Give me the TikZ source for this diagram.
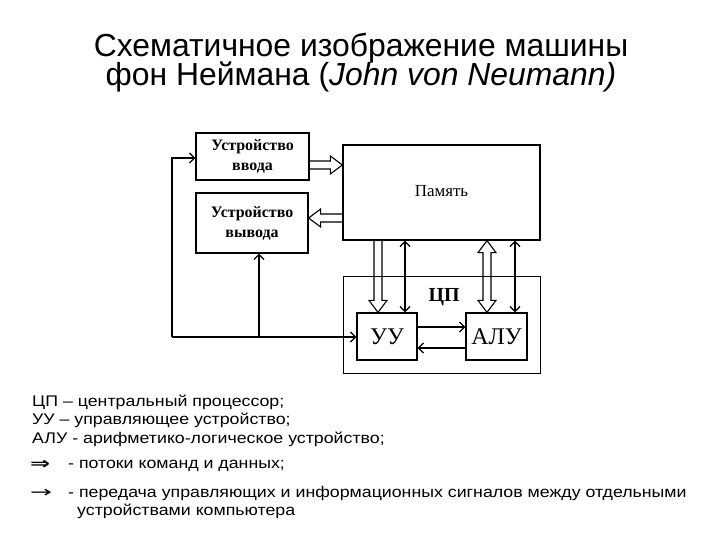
\documentclass[tikz,border=0pt]{standalone}
\usepackage{fontspec}
\usepackage{graphicx}
\setmainfont{Liberation Serif}
\newfontfamily\arial{Liberation Sans}
\newfontfamily\arialw[FakeStretch=1.15]{Liberation Sans}
\newfontfamily\dejavu{DejaVu Sans}
\usetikzlibrary{arrows.meta,calc}

\tikzset{
  box/.style={draw, line width=1.3bp, rectangle, inner sep=0pt, align=center,
    font=\bfseries\fontsize{16}{20}\selectfont},
  thinarr/.style={line width=1.3bp, -{Straight Barb[length=5bp,width=10bp]}},
  thinboth/.style={line width=1.3bp, {Straight Barb[length=5bp,width=10bp]}-{Straight Barb[length=5bp,width=10bp]}},
  fatline/.style={line width=1.1bp, line join=miter},
  lg/.style={anchor=base west, inner sep=0pt, font=\arialw\fontsize{15.5}{18}\selectfont},
  ttl/.style={anchor=base, inner sep=0pt, font=\arial\fontsize{32}{36}\selectfont},
}

\newcommand\fatarr[2]{%
  \coordinate (fah) at ($(#2)!12bp!(#1)$);
  \draw[fatline] ($(#1)!4bp!90:(#2)$) -- ($(fah)!4bp!90:(#2)$) -- ($(fah)!9bp!90:(#2)$) -- (#2)
     -- ($(fah)!9bp!-90:(#2)$) -- ($(fah)!4bp!-90:(#2)$) -- ($(#1)!4bp!-90:(#2)$);}

\newcommand\fatbi[2]{%
  \coordinate (fah) at ($(#2)!12bp!(#1)$);
  \coordinate (fag) at ($(#1)!12bp!(#2)$);
  \draw[fatline] (#1) -- ($(fag)!9bp!90:(#2)$) -- ($(fag)!4bp!90:(#2)$) -- ($(fah)!4bp!90:(#2)$)
     -- ($(fah)!9bp!90:(#2)$) -- (#2) -- ($(fah)!9bp!-90:(#2)$) -- ($(fah)!4bp!-90:(#2)$)
     -- ($(fag)!4bp!-90:(#2)$) -- ($(fag)!9bp!-90:(#2)$) -- cycle;}

\begin{document}
\begin{tikzpicture}[x=1bp,y=-1bp]
\useasboundingbox[fill=white] (0,0) rectangle (720,540);

% title
\node[ttl] (t1) at (361,57) {Схематичное изображение машины};
\node[ttl] (t2) at (361,86) {фон Неймана (\textit{John von Neumann)}};

% boxes
\node[box, minimum width=113bp, minimum height=47bp] (in) at (252.5,156.5) {Устройство\\ввода};
\node[box, minimum width=112bp, minimum height=60bp] (out) at (252,223) {Устройство\\вывода};
\node[box, minimum width=197bp, minimum height=95bp, font=\fontsize{17}{20}\selectfont] (mem) at (441.5,192.5) {\raisebox{4bp}{Память}};
\node[box, line width=1bp, minimum width=197bp, minimum height=96bp] (cpu) at (441.5,325) {};
\node[inner sep=0pt, font=\bfseries\fontsize{20}{24}\selectfont] (cpl) at (444,297) {ЦП};
\node[box, minimum width=60bp, minimum height=47bp, font=\fontsize{24}{28}\selectfont] (uu) at (387,336.5) {УУ};
\node[box, minimum width=61bp, minimum height=47bp, font=\fontsize{24}{28}\selectfont] (alu) at (496.5,336.5) {АЛУ};

% fat arrows
\coordinate (f1s) at ($(in.east)+(0,8.5)$);
\coordinate (f1t) at (mem.west |- f1s);
\fatarr{f1s}{f1t}
\coordinate (f2s) at ($(mem.west)+(0,25.5)$);
\coordinate (f2t) at (out.east |- f2s);
\fatarr{f2s}{f2t}
\coordinate (f3t) at ($(uu.north)+(-9,0)$);
\coordinate (f3s) at (mem.south -| f3t);
\fatarr{f3s}{f3t}
\coordinate (f4t) at ($(alu.north)+(-9.5,0)$);
\coordinate (f4s) at (mem.south -| f4t);
\fatbi{f4s}{f4t}

% thin arrows
\coordinate (s1) at ($(uu.north)+(18,0)$);
\draw[thinboth] (mem.south -| s1) -- (s1);
\coordinate (s2) at ($(alu.north)+(18.5,0)$);
\draw[thinboth] (mem.south -| s2) -- (s2);
\draw[thinarr] ($(uu.east)+(0,-9.5)$) -- ($(alu.west)+(0,-9.5)$);
\draw[thinarr] ($(alu.west)+(0,11.5)$) -- ($(uu.east)+(0,11.5)$);

\coordinate (c1) at (172,337);
\coordinate (c2) at (172,158);
\draw[thinarr] (c1) -- (c2) -- (in.west |- c2);
\draw[thinarr] (c1) -- (uu.west |- c1);
\coordinate (c3) at ($(out.south)+(7,0)$);
\draw[thinarr] (c3 |- c1) -- (c3);

% legend
\node[lg] (l1) at (32,406) {ЦП – центральный процессор;};
\node[lg] (l2) at (32,424.5) {УУ – управляющее устройство;};
\node[lg] (l3) at (32,443) {АЛУ - арифметико-логическое устройство;};
\node[lg] (l4) at (30,468) {\makebox[38bp][l]{\raisebox{-1.5bp}{\scalebox{1.55}[1.1]{\dejavu\bfseries ⇒}}}- потоки команд и данных;};
\node[lg] (l5) at (30,497) {\makebox[38bp][l]{\scalebox{1.7}[1]{\dejavu →}}- передача управляющих и информационных сигналов между отдельными};
\node[lg] (l6) at (77,515) {устройствами компьютера};
\end{tikzpicture}
\end{document}
